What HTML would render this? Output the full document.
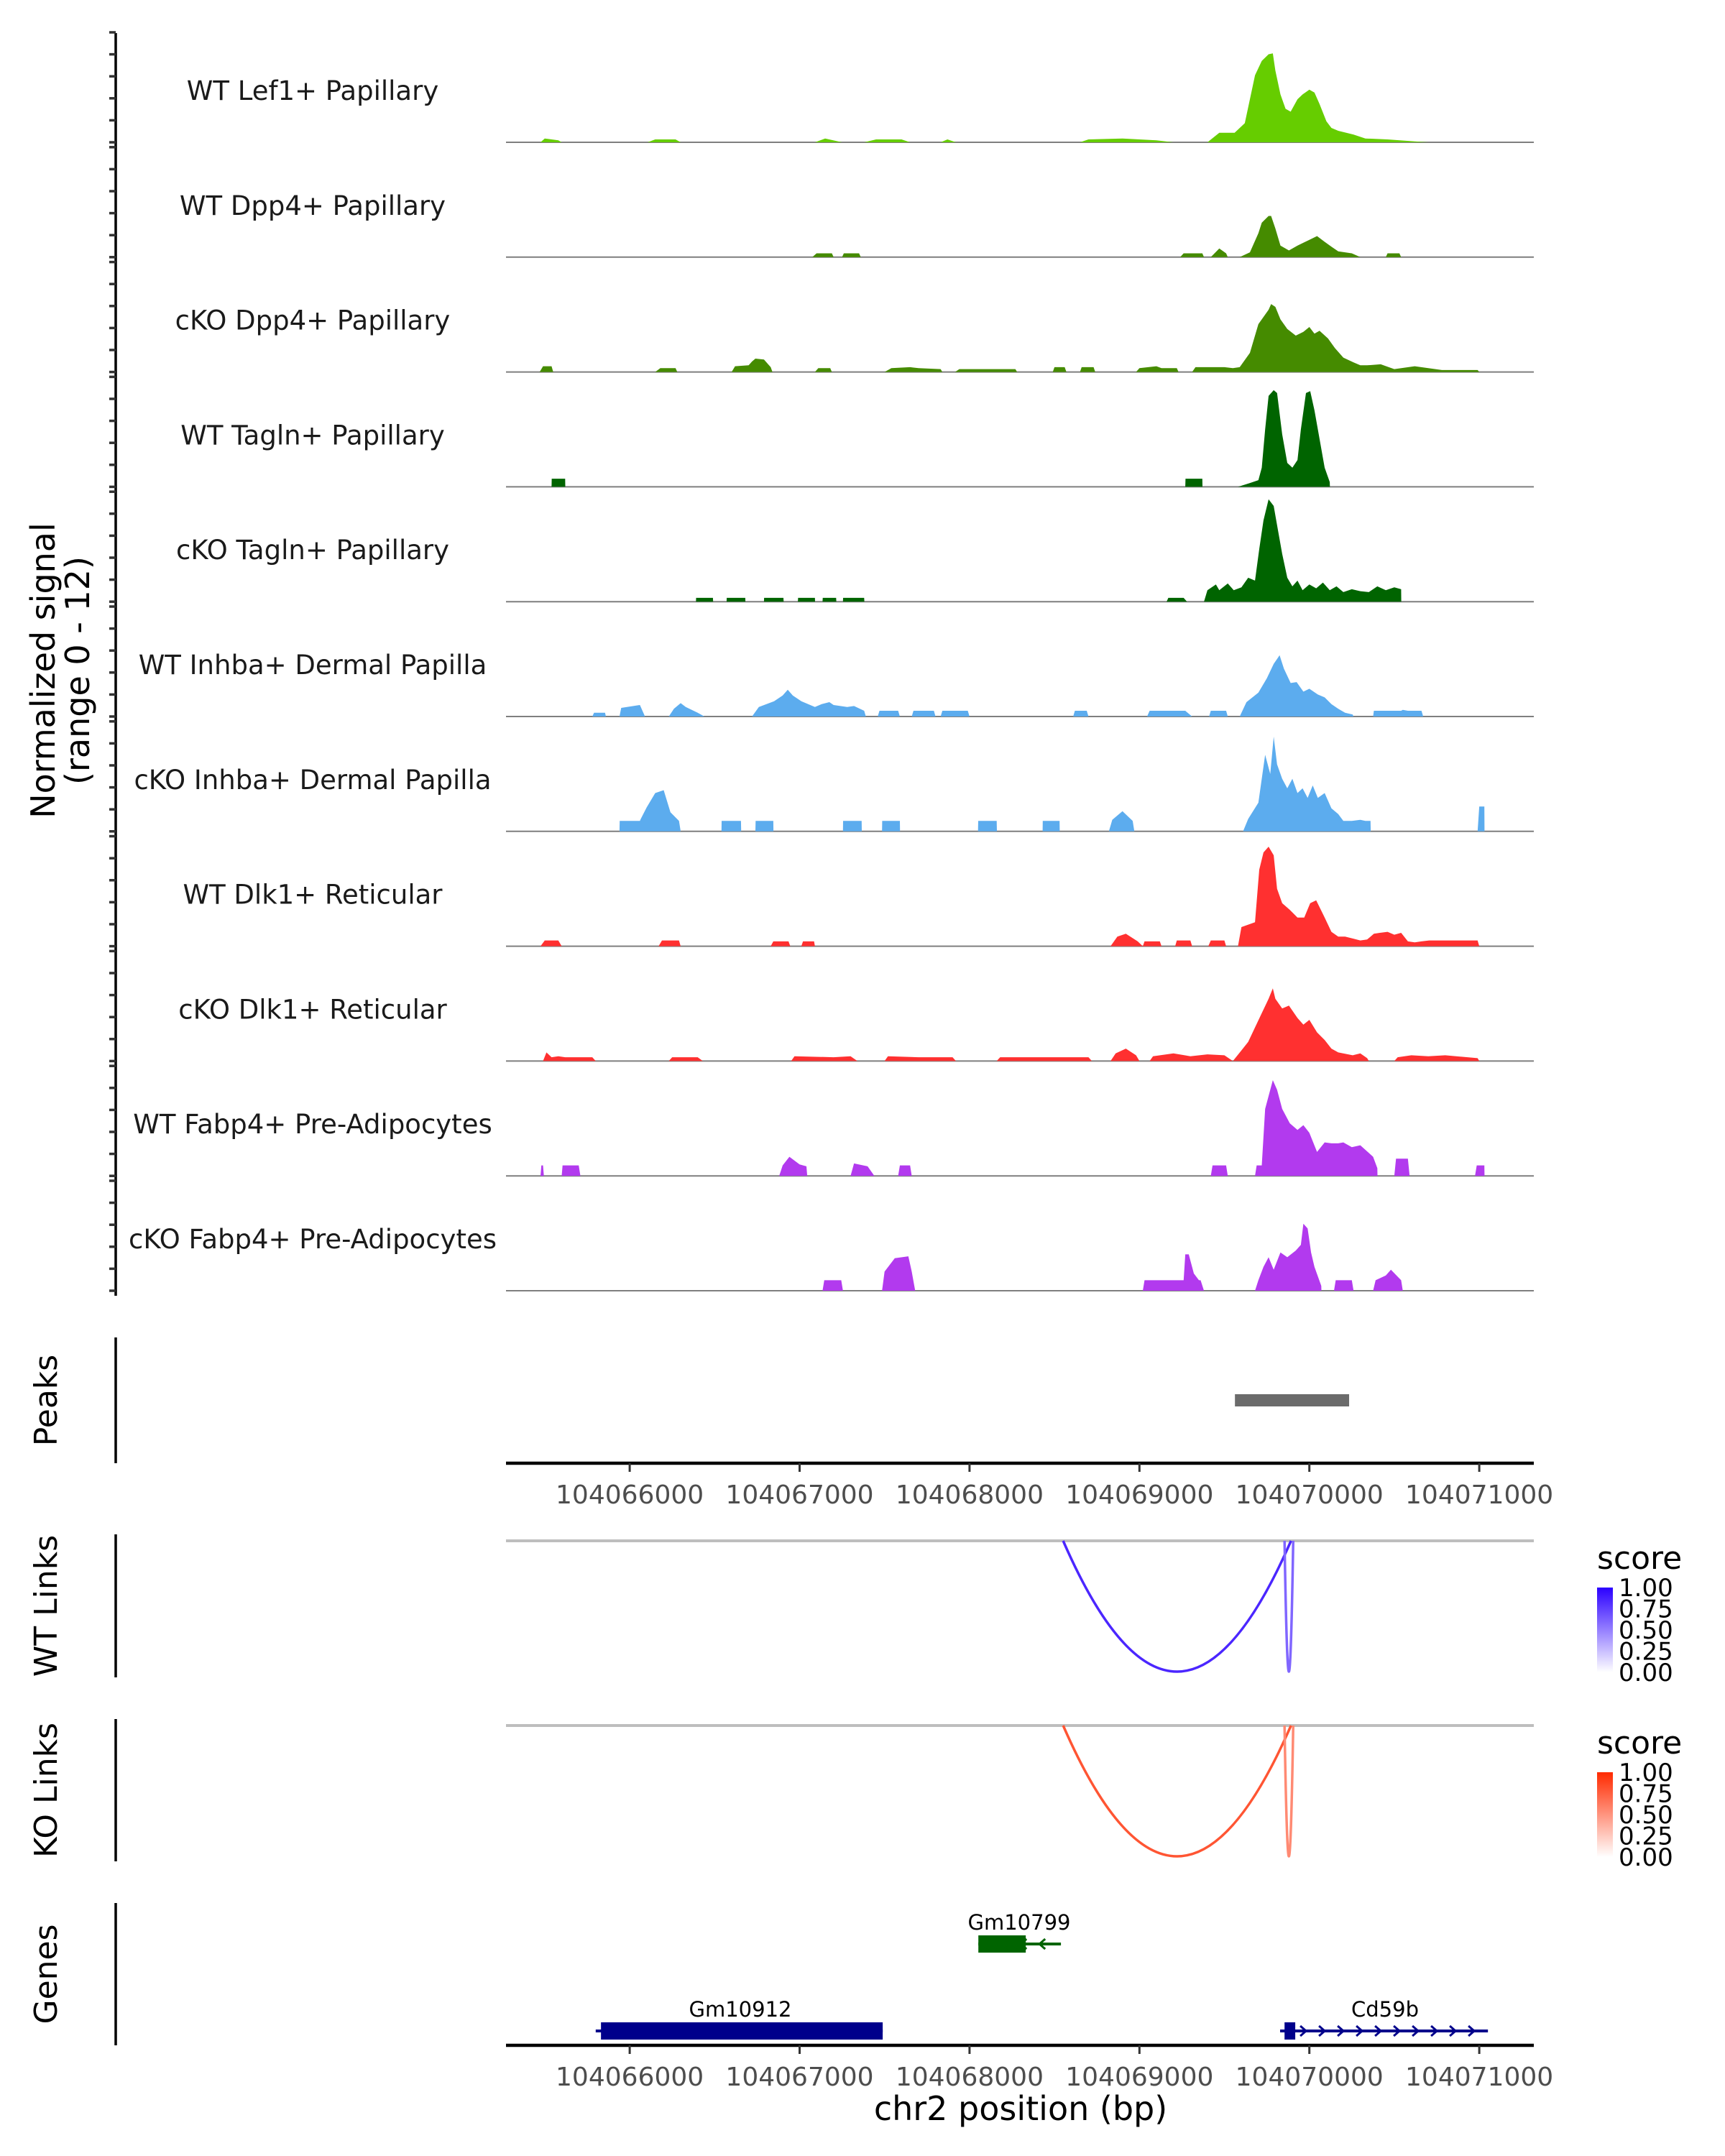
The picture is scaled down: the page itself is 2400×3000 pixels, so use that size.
<!DOCTYPE html>
<html><head><meta charset="utf-8">
<style>
html,body{margin:0;padding:0;background:#fff;}
svg{display:block;font-family:"DejaVu Sans","Liberation Sans",sans-serif;}
</style></head>
<body>
<svg id="chart" width="2400" height="3000" viewBox="0 0 2400 3000" xmlns="http://www.w3.org/2000/svg">
<rect width="2400" height="3000" fill="#fff"/>
<g id="tracks"></g>
<g id="lower"></g>
</svg>
<script>
// genomic window (bp)
const regionStart = 104065272;
const regionEnd = 104071321;
const xTicks = [104066000, 104067000, 104068000, 104069000, 104070000, 104071000];
const trackNames = ["WT Lef1+ Papillary","WT Dpp4+ Papillary","cKO Dpp4+ Papillary","WT Tagln+ Papillary","cKO Tagln+ Papillary","WT Inhba+ Dermal Papilla","cKO Inhba+ Dermal Papilla","WT Dlk1+ Reticular","cKO Dlk1+ Reticular","WT Fabp4+ Pre-Adipocytes","cKO Fabp4+ Pre-Adipocytes"];
const trackColors = ["#66CD00","#458B00","#458B00","#006400","#006400","#5CACEE","#5CACEE","#FF3030","#FF3030","#B23AEE","#B23AEE"];
const yMax = 12;
// positions: bp offset from 104,066,000 ; values: normalized signal
const t1x = [-525,-500,-420,-400,105,150,270,300,1090,1150,1250,1380,1450,1600,1650,1830,1870,1920,2650,2700,2900,3000,3100,3200,3400,3470,3560,3620,3680,3720,3760,3785,3800,3830,3860,3890,3930,3960,4000,4030,4060,4100,4130,4170,4260,4330,4460,4620,4700];
const t1y = [0,0.4,0.2,0,0,0.3,0.3,0,0,0.4,0,0,0.3,0.3,0,0,0.3,0,0,0.3,0.4,0.3,0.2,0,0,1.0,1.0,2,7,8.5,9.2,9.3,7.5,5,3.5,3.2,4.5,5,5.5,5.2,4,2.2,1.5,1.2,0.8,0.4,0.3,0.1,0];
const t2x = [1075,1100,1190,1200,1250,1260,1350,1360,3240,3260,3370,3380,3420,3470,3510,3520,3590,3650,3700,3720,3760,3775,3800,3830,3880,3930,3965,4000,4045,4090,4130,4170,4250,4300,4450,4460,4530,4540];
const t2y = [0,0.4,0.4,0,0,0.4,0.4,0,0,0.4,0.4,0,0,0.9,0.4,0,0,0.5,2.5,3.6,4.3,4.3,3,1.2,0.7,1.2,1.5,1.8,2.2,1.6,1.1,0.6,0.4,0,0,0.4,0.4,0];
const t3x = [-530,-510,-460,-450,150,180,270,280,600,620,700,720,740,790,830,840,1090,1110,1180,1190,1500,1540,1650,1700,1830,1840,1915,1940,2270,2280,2490,2500,2560,2570,2650,2660,2730,2740,2980,3000,3100,3130,3220,3230,3310,3330,3500,3550,3590,3650,3700,3760,3775,3800,3830,3870,3920,3965,4000,4030,4060,4110,4150,4200,4260,4300,4340,4420,4500,4620,4700,4780,4860,4990,5000];
const t3y = [0,0.6,0.6,0,0,0.4,0.4,0,0,0.6,0.7,1.1,1.4,1.3,0.5,0,0,0.4,0.4,0,0,0.4,0.5,0.4,0.3,0,0,0.3,0.3,0,0,0.5,0.5,0,0,0.5,0.5,0,0,0.4,0.6,0.4,0.4,0,0,0.5,0.5,0.4,0.5,2,5,6.5,7.1,6.8,5.5,4.5,3.8,4.2,4.7,4.0,4.3,3.5,2.5,1.5,1.0,0.7,0.7,0.8,0.3,0.6,0.4,0.2,0.2,0.2,0];
const t4x = [-460,-459,-380,-379,3270,3271,3370,3371,3580,3650,3700,3720,3740,3760,3790,3810,3840,3870,3900,3930,3950,3980,4005,4030,4060,4090,4120,4121];
const t4y = [0,0.85,0.85,0,0,0.85,0.85,0,0,0.4,0.7,2,6,9.5,10.1,9.8,5.5,2.5,2,2.8,6,9.8,10,8,5,2,0.5,0];
const t5x = [390,391,490,491,570,571,680,681,790,791,905,906,990,991,1090,1091,1135,1136,1215,1216,1255,1256,1380,1381,3160,3170,3260,3280,3380,3400,3450,3470,3520,3555,3600,3640,3680,3705,3730,3760,3790,3810,3840,3870,3900,3930,3960,4000,4040,4080,4120,4160,4200,4250,4300,4350,4400,4450,4500,4540,4541];
const t5y = [0,0.4,0.4,0,0,0.4,0.4,0,0,0.4,0.4,0,0,0.4,0.4,0,0,0.4,0.4,0,0,0.4,0.4,0,0,0.4,0.4,0,0,1.2,1.8,1.2,1.9,1.2,1.5,2.5,2.2,5.5,8.5,10.7,10,8,5,2.5,1.6,2.2,1.2,1.8,1.4,2.0,1.2,1.6,1.0,1.3,1.1,1.0,1.6,1.2,1.5,1.3,0];
const t6x = [-220,-210,-145,-140,-60,-50,60,90,230,260,300,330,400,440,720,760,850,900,930,960,1010,1090,1130,1175,1200,1280,1320,1380,1390,1460,1470,1580,1590,1660,1670,1790,1800,1830,1840,1990,2000,2610,2620,2690,2700,3045,3060,3150,3200,3270,3310,3410,3420,3510,3520,3590,3630,3700,3750,3790,3825,3850,3890,3925,3965,4000,4050,4090,4130,4170,4210,4255,4260,4375,4380,4540,4550,4580,4660,4670];
const t6y = [0,0.4,0.4,0,0,0.9,1.2,0,0,0.8,1.4,1.0,0.4,0,0,1.0,1.6,2.2,2.8,2.2,1.6,1.0,1.3,1.5,1.2,1.0,1.1,0.6,0,0,0.6,0.6,0,0,0.6,0.6,0,0,0.6,0.6,0,0,0.6,0.6,0,0,0.6,0.6,0.6,0.6,0,0,0.6,0.6,0,0,1.5,2.5,4,5.5,6.4,5,3.5,3.6,2.6,2.9,2.3,2.0,1.3,0.8,0.4,0.2,0,0,0.6,0.6,0.7,0.6,0.6,0];
const t7x = [-60,-59,60,65,100,150,200,240,290,300,540,541,655,656,740,741,845,846,1255,1256,1365,1366,1485,1486,1590,1591,2050,2051,2160,2161,2430,2431,2530,2531,2820,2840,2900,2960,2970,3610,3640,3700,3740,3770,3790,3810,3840,3870,3900,3930,3960,3990,4020,4050,4090,4130,4170,4200,4250,4300,4330,4360,4361,4990,5000,5030,5031];
const t7y = [0,1.1,1.1,1.3,2.5,4.0,4.3,2,1.1,0,0,1.1,1.1,0,0,1.1,1.1,0,0,1.1,1.1,0,0,1.1,1.1,0,0,1.1,1.1,0,0,1.1,1.1,0,0,1.2,2.1,1.1,0,0,1.3,3,8,6,9.9,7,5.5,4.5,5.5,4,4.5,3.5,4.8,3.5,4,2.4,1.8,1.1,1.1,1.2,1.1,1.1,0,0,2.6,2.6,0];
const t8x = [-525,-500,-420,-400,170,190,290,300,830,845,935,945,1010,1020,1085,1090,2830,2870,2920,2990,3020,3030,3120,3130,3210,3220,3300,3310,3405,3420,3500,3510,3580,3600,3680,3705,3730,3760,3790,3810,3840,3885,3930,3970,4005,4040,4090,4130,4170,4210,4255,4300,4340,4380,4415,4460,4500,4540,4580,4620,4660,4705,4990,5000];
const t8y = [0,0.6,0.6,0,0,0.6,0.6,0,0,0.5,0.5,0,0,0.5,0.5,0,0,1.0,1.3,0.5,0,0.5,0.5,0,0,0.6,0.6,0,0,0.6,0.6,0,0,2,2.5,8,9.8,10.4,9.5,6,4.5,3.8,3.0,3.0,4.5,4.8,3,1.5,1.0,1.0,0.8,0.6,0.7,1.3,1.4,1.5,1.2,1.4,0.5,0.4,0.5,0.6,0.6,0];
const t9x = [-510,-490,-460,-420,-380,-300,-220,-200,230,250,400,430,950,970,1200,1300,1340,1500,1520,1700,1800,1900,1920,2160,2180,2400,2500,2640,2700,2720,2830,2860,2920,2980,3000,3060,3080,3200,3300,3400,3500,3550,3595,3640,3720,3760,3785,3800,3840,3880,3930,3965,4000,4045,4090,4130,4170,4255,4300,4340,4350,4500,4520,4600,4700,4800,4990,5000];
const t9y = [0,0.9,0.4,0.5,0.4,0.4,0.4,0,0,0.4,0.4,0,0,0.5,0.4,0.5,0,0,0.5,0.4,0.4,0.4,0,0,0.4,0.4,0.4,0.4,0.4,0,0,0.8,1.3,0.6,0,0,0.5,0.8,0.5,0.7,0.6,0,1.0,2,5,6.5,7.6,6.5,5.5,5.8,4.5,3.8,4.3,3,2.2,1.3,0.9,0.6,0.8,0.3,0,0,0.4,0.6,0.5,0.6,0.3,0];
const t10x = [-525,-520,-510,-505,-400,-395,-300,-290,880,900,940,1000,1040,1045,1300,1320,1400,1440,1580,1590,1650,1660,3420,3430,3510,3520,3680,3690,3720,3740,3785,3810,3840,3885,3930,3965,4000,4045,4090,4130,4170,4200,4250,4300,4375,4400,4401,4500,4510,4580,4590,4975,4985,5030,5031];
const t10y = [0,1.1,1.1,0,0,1.1,1.1,0,0,1.1,2.0,1.2,1.0,0,0,1.3,1.0,0,0,1.1,1.1,0,0,1.1,1.1,0,0,1.1,1.1,7,10,9,7,5.5,4.8,5.3,4.5,2.5,3.5,3.4,3.4,3.5,3.0,3.2,2.0,0.8,0,0,1.8,1.8,0,0,1.1,1.1,0];
const t11x = [1135,1145,1245,1255,1485,1500,1560,1640,1660,1680,3020,3030,3260,3270,3290,3320,3350,3360,3380,3680,3700,3730,3760,3790,3830,3870,3920,3950,3965,3990,4010,4030,4070,4071,4145,4155,4250,4260,4375,4390,4450,4480,4540,4550];
const t11y = [0,1.1,1.1,0,0,2,3.4,3.6,2,0,0,1.1,1.1,3.8,3.8,1.8,1.1,1.1,0,0,1.1,2.5,3.5,2.2,4,3.5,4.2,4.8,7,6.5,4,2.5,0.5,0,0,1.1,1.1,0,0,1.1,1.6,2.2,1.1,0];
const trackX = [t1x,t2x,t3x,t4x,t5x,t6x,t7x,t8x,t9x,t10x,t11x];
const trackY = [t1y,t2y,t3y,t4y,t5y,t6y,t7y,t8y,t9y,t10y,t11y];
const posOffset = 104066000;
// peaks
const peakStarts = [104069562];
const peakEnds = [104070234];
// links
const linkStarts = [104068551, 104069854];
const linkEnds = [104069892, 104069905];
const wtScores = [0.85, 0.6];
const koScores = [0.8, 0.55];
const legendTicks = ["1.00","0.75","0.50","0.25","0.00"];

const NS = "http://www.w3.org/2000/svg";
const X0 = 704, X1 = 2134;
function xs(bp){ return X0 + (bp - regionStart) / (regionEnd - regionStart) * (X1 - X0); }
function mk(tag, attrs, parent){ const e = document.createElementNS(NS, tag); for (const k in attrs) e.setAttribute(k, attrs[k]); parent.appendChild(e); return e; }

const tracks = document.getElementById('tracks');
const lower = document.getElementById('lower');
const base0 = 198, step = 159.8, trackH = 159.8;
function ys(v, base){ return base - v / yMax * trackH; }

let ax = mk('line', {x1:161,y1:46,x2:161,y2:1803,stroke:'#000','stroke-width':3.5}, tracks);


for (let k = 0; k < trackNames.length; k++) {
  const base = base0 + k * step;
  for (let t = 0; t <= 5; t++) {
    const ty = base - t * 30.6;
    const tk = mk('line', {x1:152,y1:ty,x2:161,y2:ty,stroke:'#333','stroke-width':3.5}, tracks);
    
    
  }
  const g = mk('g', {}, tracks);
  
  
  const lab = mk('text', {x:435,y:base-59,'text-anchor':'middle','font-size':37,fill:'#1a1a1a'}, g);
  lab.textContent = trackNames[k];
  
  
  const bl = mk('line', {x1:X0,y1:base,x2:X1,y2:base,stroke:'#7f7f7f','stroke-width':2}, g);
  
  
  const px = trackX[k], py = trackY[k];
  let d = 'M' + xs(px[0] + posOffset).toFixed(1) + ',' + base;
  for (let i = 0; i < px.length; i++) d += ' L' + xs(px[i] + posOffset).toFixed(1) + ',' + ys(py[i], base).toFixed(1);
  d += ' L' + xs(px[px.length-1] + posOffset).toFixed(1) + ',' + base + ' Z';
  const area = mk('path', {d:d, fill:trackColors[k]}, g);
  
  
}
const yt = mk('text', {transform:'translate(80,933) rotate(-90)','text-anchor':'middle','font-size':46,fill:'#000'}, tracks);


const ts1 = mk('tspan', {x:0,dy:-4}, yt); ts1.textContent = 'Normalized signal';
const ts2 = mk('tspan', {x:0,dy:48}, yt); ts2.textContent = '(range 0 - 12)';

function panelAxis(y1, y2, title, name){
  const l = mk('line', {x1:161,y1:y1,x2:161,y2:y2,stroke:'#000','stroke-width':3.5}, lower);
  
  
  const t = mk('text', {transform:'translate(79,' + ((y1+y2)/2) + ') rotate(-90)','text-anchor':'middle','font-size':44,fill:'#000'}, lower);
  t.textContent = title;
  
  
}
panelAxis(1861, 2036, 'Peaks', 'peaks');
panelAxis(2135, 2334, 'WT Links', 'wt-links');
panelAxis(2392, 2590, 'KO Links', 'ko-links');
panelAxis(2648, 2846, 'Genes', 'genes');

function xAxis(y, labelY, name){
  const l = mk('line', {x1:X0,y1:y,x2:X1,y2:y,stroke:'#000','stroke-width':4.5}, lower);
  
  
  xTicks.forEach(v => {
    const tk = mk('line', {x1:xs(v),y1:y,x2:xs(v),y2:y+12,stroke:'#333','stroke-width':3}, lower);
    
    
    const tl = mk('text', {x:xs(v),y:labelY,'text-anchor':'middle','font-size':36,fill:'#4d4d4d'}, lower);
    tl.textContent = v;
    
    
  });
}
xAxis(2036, 2092, 'peaks-x-axis');
xAxis(2846, 2902, 'genes-x-axis');
const xt = mk('text', {x:1420,y:2950,'text-anchor':'middle','font-size':46,fill:'#000'}, lower);
xt.textContent = 'chr2 position (bp)';



for (let i = 0; i < peakStarts.length; i++) {
  const r = mk('rect', {x:xs(peakStarts[i]),y:1940,width:xs(peakEnds[i])-xs(peakStarts[i]),height:17,fill:'#6b6b6b'}, lower);
  
  
}

function linkPanel(base, depth, scores, hi, legendTop, name){
  const bl = mk('line', {x1:X0,y1:base,x2:X1,y2:base,stroke:'#bebebe','stroke-width':4}, lower);
  
  
  for (let i = 0; i < linkStarts.length; i++) {
    const a = xs(linkStarts[i]), b = xs(linkEnds[i]);
    const c = 'color-mix(in srgb, ' + hi + ' ' + Math.round(scores[i]*100) + '%, white)';
    const p = mk('path', {d:'M' + a + ',' + base + ' Q' + ((a+b)/2) + ',' + (base + 2*depth) + ' ' + b + ',' + base, fill:'none', stroke:c, 'stroke-width':3.5}, lower);
    
    
  }
  const st = mk('text', {x:2222,y:legendTop-26,'font-size':44,fill:'#000'}, lower);
  st.textContent = 'score';
  
  
  const gid = name + '-grad';
  const defs = mk('defs', {}, lower);
  const lg = mk('linearGradient', {id:gid,x1:0,y1:0,x2:0,y2:1}, defs);
  mk('stop', {offset:'0','stop-color':hi}, lg);
  mk('stop', {offset:'1','stop-color':'#ffffff'}, lg);
  const bar = mk('rect', {x:2222,y:legendTop,width:22,height:118,fill:'url(#' + gid + ')'}, lower);
  
  
  legendTicks.forEach((t, j) => {
    const ly = legendTop + j * 29.5;
    const tl = mk('text', {x:2252,y:ly+12,'font-size':34,fill:'#000'}, lower);
    tl.textContent = t;
    
    
  });
}
linkPanel(2144, 182, wtScores, '#2B00FF', 2209, 'wt-links');
linkPanel(2401, 182, koScores, '#FF2A00', 2466, 'ko-links');

const gg = mk('g', {}, lower);


function gene(name, s, e, bs, be, y, color, dir, labelX){
  const g = mk('g', {}, gg);
  
  
  mk('line', {x1:xs(s),y1:y,x2:xs(e),y2:y,stroke:color,'stroke-width':4}, g);
  mk('rect', {x:xs(bs),y:y-12,width:xs(be)-xs(bs),height:24,fill:color}, g);
  const x1 = xs(s), x2 = xs(e);
  for (let x = (dir > 0 ? Math.max(x1, xs(be)) + 12 : x1 + 10); x < x2 - 2; x += 26) {
    mk('path', {d: dir > 0 ? ('M' + (x-5) + ',' + (y-7) + ' L' + (x+3) + ',' + y + ' L' + (x-5) + ',' + (y+7)) : ('M' + (x+5) + ',' + (y-7) + ' L' + (x-3) + ',' + y + ' L' + (x+5) + ',' + (y+7)), fill:'none', stroke:color, 'stroke-width':3}, g);
  }
  const t = mk('text', {x:labelX,y:y-20,'text-anchor':'middle','font-size':29,fill:'#000'}, g);
  t.textContent = name;
}
gene('Gm10799', 104068052, 104068538, 104068052, 104068331, 2705, '#006400', -1, 1418);
gene('Gm10912', 104065800, 104067489, 104065831, 104067489, 2826, '#00008B', 1, 1030);
gene('Cd59b', 104069828, 104071051, 104069854, 104069917, 2826, '#00008B', 1, 1927);
</script>
</body></html>
